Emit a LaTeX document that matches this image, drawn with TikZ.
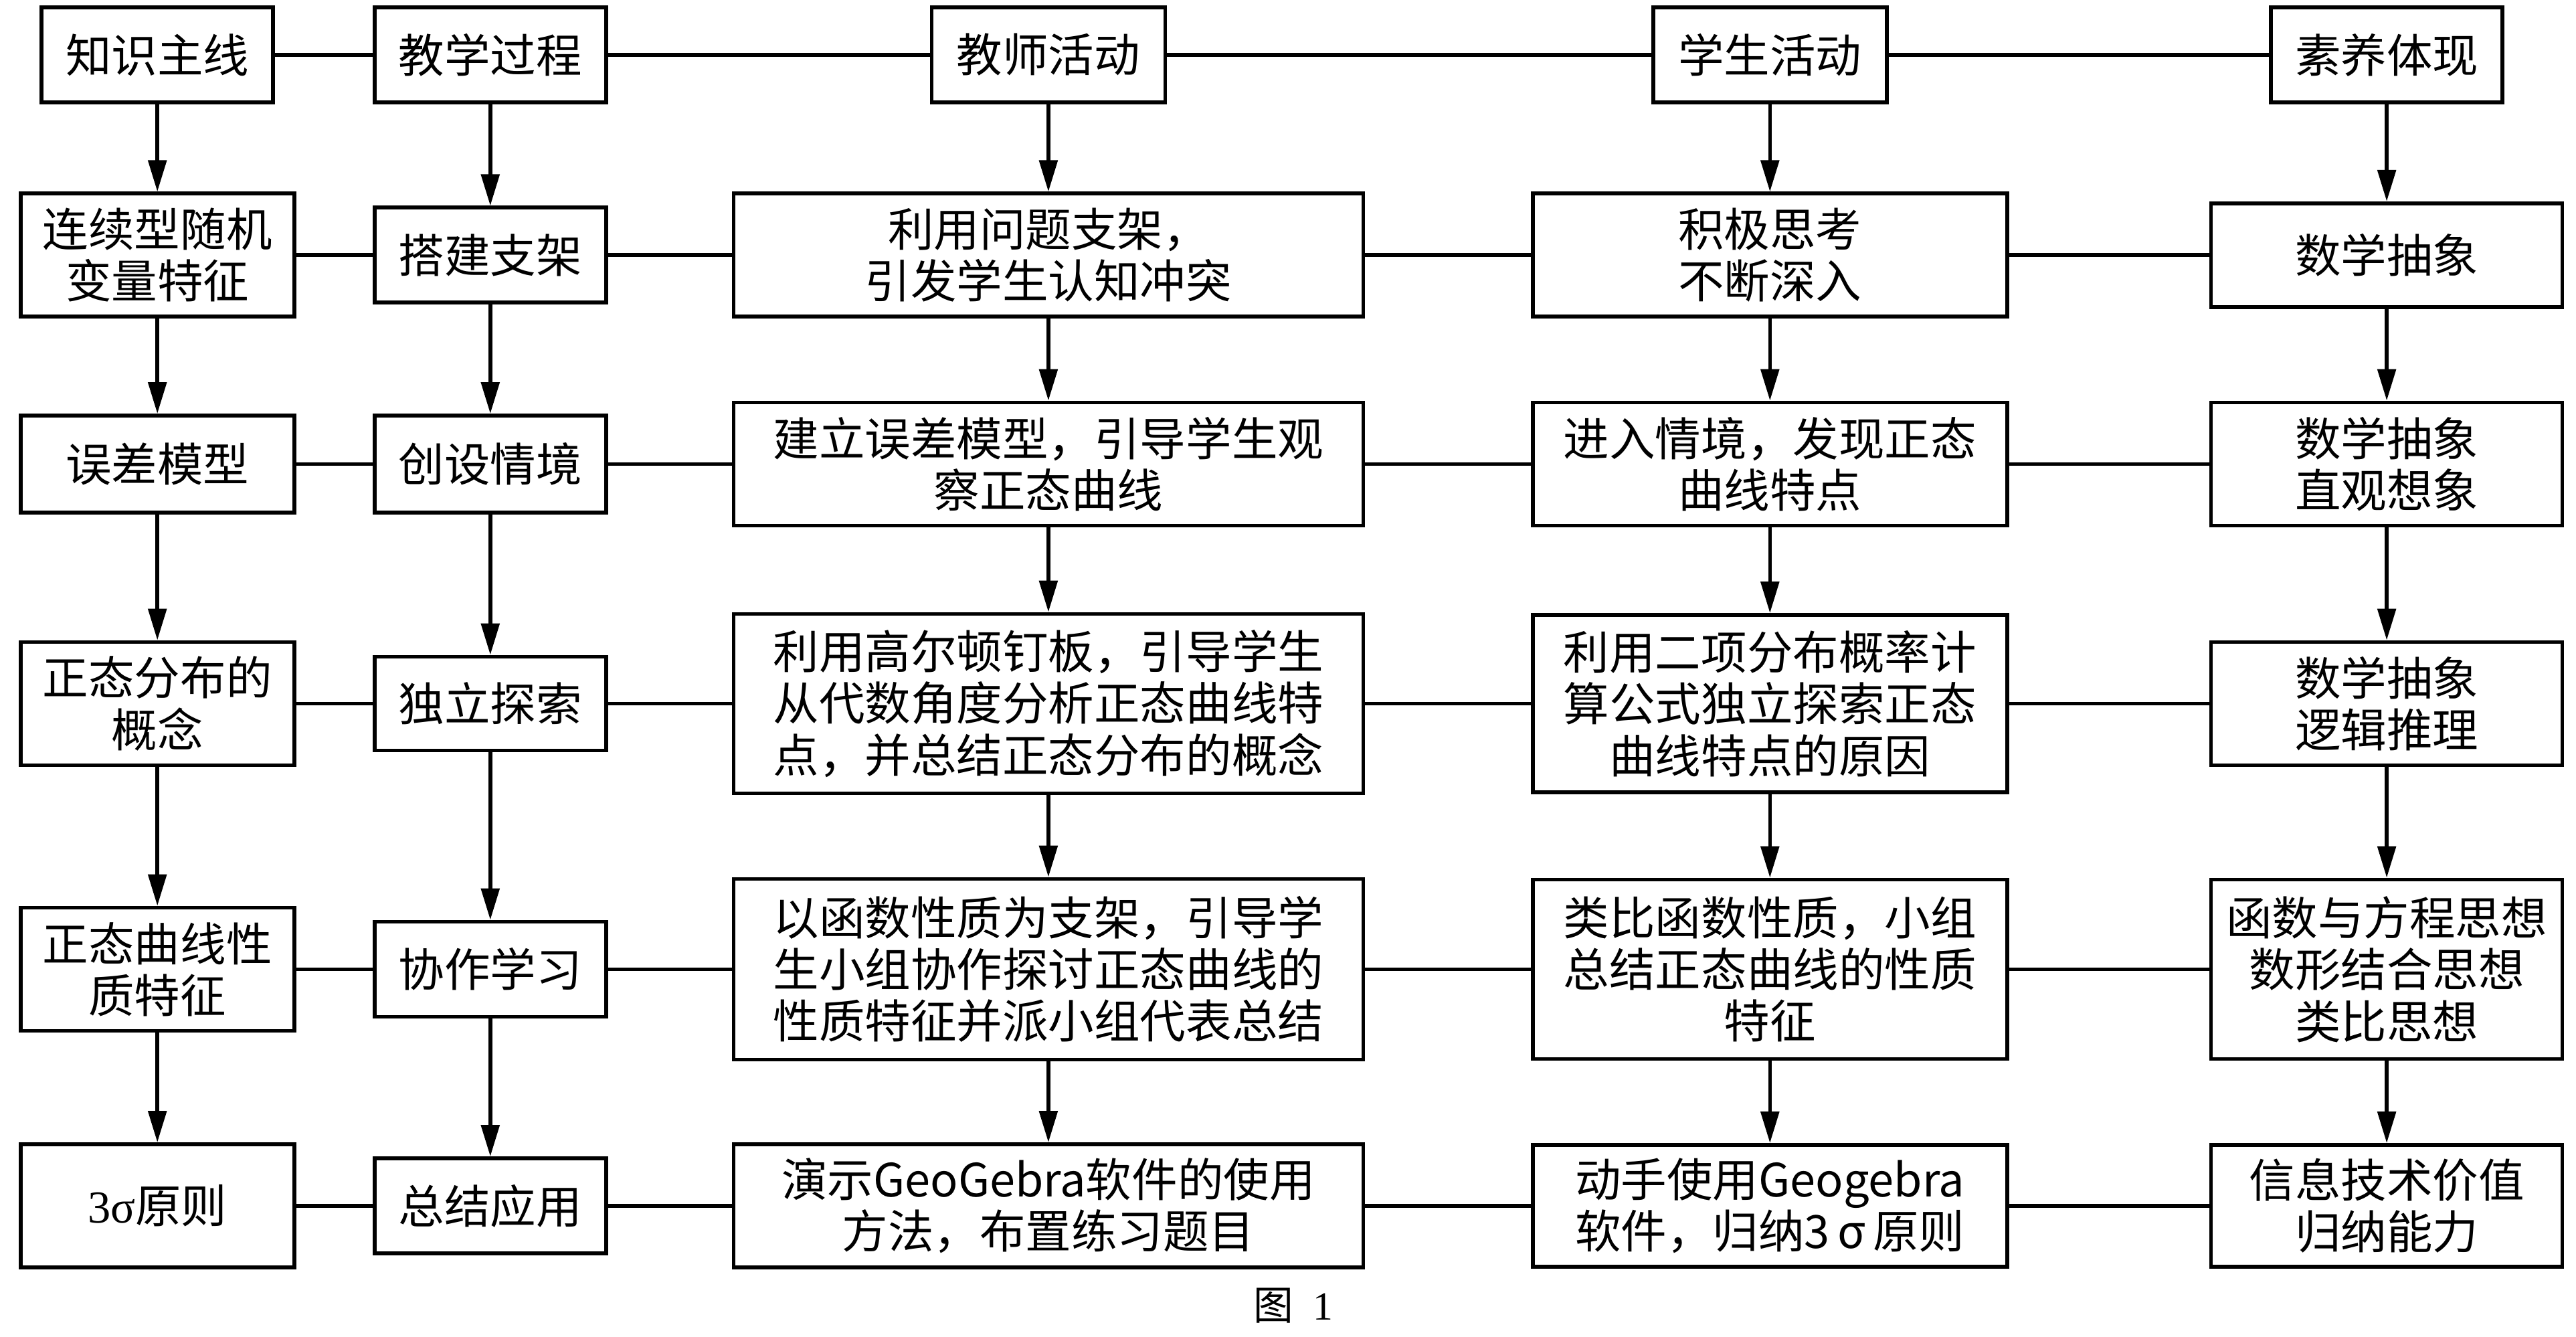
\documentclass[tikz,border=0pt]{standalone}
\usepackage{fontspec}
\usepackage{tikz}
\usetikzlibrary{positioning}
\usetikzlibrary{arrows.meta}
\newfontfamily\cjk{Noto Sans CJK SC}
\newfontfamily\grk{Liberation Serif}

\begin{document}
\begin{tikzpicture}[line width=1.6pt,node distance=4.976cm,every node/.style={draw=black,line width=1.6pt,rectangle,inner sep=0pt,align=center,font=\cjk\fontsize{19.5}{22}\selectfont}]
  \useasboundingbox (0,0) rectangle (38.5,-19.98);
  % header row
  \node[minimum width=3.46cm,minimum height=1.42cm](know1) at (2.352,-0.82) {知识主线};
  \node[minimum width=3.46cm,minimum height=1.42cm](proc1) [right of=know1] {教学过程};
  \node[minimum width=3.49cm,minimum height=1.42cm](teach1) [node distance=8.341cm,right of=proc1] {教师活动};
  \node[minimum width=3.49cm,minimum height=1.42cm](stud1) [node distance=10.784cm,right of=teach1] {学生活动};
  \node[minimum width=3.46cm,minimum height=1.42cm](lit1) [node distance=9.218cm,right of=stud1] {素养体现};
  % row 2
  \node[minimum width=4.09cm,minimum height=1.84cm](know2) [node distance=2.993cm,below of=know1] {连续型随机\\变量特征};
  \node[minimum width=3.46cm,minimum height=1.42cm](proc2) [node distance=2.993cm,below of=proc1] {搭建支架};
  \node[minimum width=9.41cm,minimum height=1.84cm](teach2) [node distance=2.993cm,below of=teach1] {利用问题支架，\\引发学生认知冲突};
  \node[minimum width=7.09cm,minimum height=1.84cm](stud2) [node distance=2.993cm,below of=stud1] {积极思考\\不断深入};
  \node[minimum width=5.25cm,minimum height=1.55cm](lit2) [node distance=2.993cm,below of=lit1] {数学抽象};
  % row 3
  \node[minimum width=4.09cm,minimum height=1.45cm](know3) [node distance=3.122cm,below of=know2] {误差模型};
  \node[minimum width=3.46cm,minimum height=1.45cm](proc3) [node distance=3.122cm,below of=proc2] {创设情境};
  \node[minimum width=9.41cm,minimum height=1.84cm](teach3) [node distance=3.122cm,below of=teach2] {建立误差模型，引导学生观\\察正态曲线};
  \node[minimum width=7.09cm,minimum height=1.84cm](stud3) [node distance=3.122cm,below of=stud2] {进入情境，发现正态\\曲线特点};
  \node[minimum width=5.25cm,minimum height=1.84cm](lit3) [node distance=3.122cm,below of=lit2] {数学抽象\\直观想象};
  % row 4
  \node[minimum width=4.09cm,minimum height=1.84cm](know4) [node distance=3.58cm,below of=know3] {正态分布的\\概念};
  \node[minimum width=3.46cm,minimum height=1.40cm](proc4) [node distance=3.58cm,below of=proc3] {独立探索};
  \node[minimum width=9.41cm,minimum height=2.68cm](teach4) [node distance=3.58cm,below of=teach3] {利用高尔顿钉板，引导学生\\从代数角度分析正态曲线特\\点，并总结正态分布的概念};
  \node[minimum width=7.09cm,minimum height=2.65cm](stud4) [node distance=3.58cm,below of=stud3] {利用二项分布概率计\\算公式独立探索正态\\曲线特点的原因};
  \node[minimum width=5.25cm,minimum height=1.84cm](lit4) [node distance=3.58cm,below of=lit3] {数学抽象\\逻辑推理};
  % row 5
  \node[minimum width=4.09cm,minimum height=1.84cm](know5) [node distance=3.97cm,below of=know4] {正态曲线性\\质特征};
  \node[minimum width=3.46cm,minimum height=1.42cm](proc5) [node distance=3.97cm,below of=proc4] {协作学习};
  \node[minimum width=9.41cm,minimum height=2.70cm](teach5) [node distance=3.97cm,below of=teach4] {以函数性质为支架，引导学\\生小组协作探讨正态曲线的\\性质特征并派小组代表总结};
  \node[minimum width=7.09cm,minimum height=2.68cm](stud5) [node distance=3.97cm,below of=stud4] {类比函数性质，小组\\总结正态曲线的性质\\特征};
  \node[minimum width=5.25cm,minimum height=2.68cm](lit5) [node distance=3.97cm,below of=lit4] {函数与方程思想\\数形结合思想\\类比思想};
  % row 6
  \node[minimum width=4.09cm,minimum height=1.84cm](know6) [node distance=3.535cm,below of=know5] {{\grk 3σ}原则};
  \node[minimum width=3.46cm,minimum height=1.42cm](proc6) [node distance=3.535cm,below of=proc5] {总结应用};
  \node[minimum width=9.41cm,minimum height=1.84cm](teach6) [node distance=3.535cm,below of=teach5] {演示GeoGebra软件的使用\\方法，布置练习题目};
  \node[minimum width=7.09cm,minimum height=1.82cm](stud6) [node distance=3.535cm,below of=stud5] {动手使用Geogebra\\软件，归纳3\,σ\,原则};
  \node[minimum width=5.25cm,minimum height=1.82cm](lit6) [node distance=3.535cm,below of=lit5] {信息技术价值\\归纳能力};
  \node[draw=none,font=\cjk\fontsize{17}{20}\selectfont](caption) at (19.33,-19.51) {图\hspace{0.3cm}{\grk 1}};
  % rows
  \draw (know1)--(proc1);
  \draw (proc1)--(teach1);
  \draw (teach1)--(stud1);
  \draw (stud1)--(lit1);
  \draw (know2)--(proc2);
  \draw (proc2)--(teach2);
  \draw (teach2)--(stud2);
  \draw (stud2)--(lit2);
  \draw (know3)--(proc3);
  \draw (proc3)--(teach3);
  \draw (teach3)--(stud3);
  \draw (stud3)--(lit3);
  \draw (know4)--(proc4);
  \draw (proc4)--(teach4);
  \draw (teach4)--(stud4);
  \draw (stud4)--(lit4);
  \draw (know5)--(proc5);
  \draw (proc5)--(teach5);
  \draw (teach5)--(stud5);
  \draw (stud5)--(lit5);
  \draw (know6)--(proc6);
  \draw (proc6)--(teach6);
  \draw (teach6)--(stud6);
  \draw (stud6)--(lit6);
  % columns
  \draw[-{Triangle[length=4.7mm,width=2.7mm]}] (know1)--(know2);
  \draw[-{Triangle[length=4.7mm,width=2.7mm]}] (know2)--(know3);
  \draw[-{Triangle[length=4.7mm,width=2.7mm]}] (know3)--(know4);
  \draw[-{Triangle[length=4.7mm,width=2.7mm]}] (know4)--(know5);
  \draw[-{Triangle[length=4.7mm,width=2.7mm]}] (know5)--(know6);
  \draw[-{Triangle[length=4.7mm,width=2.7mm]}] (proc1)--(proc2);
  \draw[-{Triangle[length=4.7mm,width=2.7mm]}] (proc2)--(proc3);
  \draw[-{Triangle[length=4.7mm,width=2.7mm]}] (proc3)--(proc4);
  \draw[-{Triangle[length=4.7mm,width=2.7mm]}] (proc4)--(proc5);
  \draw[-{Triangle[length=4.7mm,width=2.7mm]}] (proc5)--(proc6);
  \draw[-{Triangle[length=4.7mm,width=2.7mm]}] (teach1)--(teach2);
  \draw[-{Triangle[length=4.7mm,width=2.7mm]}] (teach2)--(teach3);
  \draw[-{Triangle[length=4.7mm,width=2.7mm]}] (teach3)--(teach4);
  \draw[-{Triangle[length=4.7mm,width=2.7mm]}] (teach4)--(teach5);
  \draw[-{Triangle[length=4.7mm,width=2.7mm]}] (teach5)--(teach6);
  \draw[-{Triangle[length=4.7mm,width=2.7mm]}] (stud1)--(stud2);
  \draw[-{Triangle[length=4.7mm,width=2.7mm]}] (stud2)--(stud3);
  \draw[-{Triangle[length=4.7mm,width=2.7mm]}] (stud3)--(stud4);
  \draw[-{Triangle[length=4.7mm,width=2.7mm]}] (stud4)--(stud5);
  \draw[-{Triangle[length=4.7mm,width=2.7mm]}] (stud5)--(stud6);
  \draw[-{Triangle[length=4.7mm,width=2.7mm]}] (lit1)--(lit2);
  \draw[-{Triangle[length=4.7mm,width=2.7mm]}] (lit2)--(lit3);
  \draw[-{Triangle[length=4.7mm,width=2.7mm]}] (lit3)--(lit4);
  \draw[-{Triangle[length=4.7mm,width=2.7mm]}] (lit4)--(lit5);
  \draw[-{Triangle[length=4.7mm,width=2.7mm]}] (lit5)--(lit6);
\end{tikzpicture}
\end{document}
